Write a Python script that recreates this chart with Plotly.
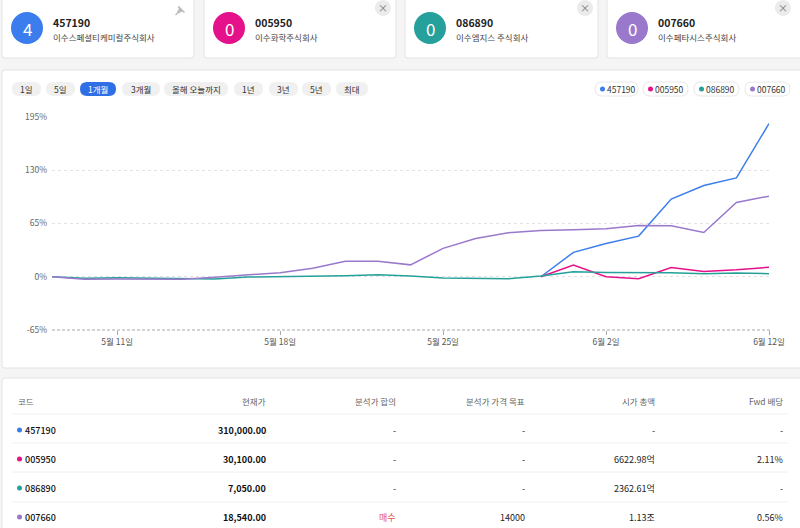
import plotly.graph_objects as go

# ---------------- data ----------------
dates = ["5월 9일", "5월 10일", "5월 11일", "5월 12일", "5월 15일", "5월 16일", "5월 17일",
         "5월 18일", "5월 19일", "5월 22일", "5월 23일", "5월 24일", "5월 25일", "5월 26일",
         "5월 30일", "5월 31일", "6월 1일", "6월 2일", "6월 5일", "6월 7일", "6월 8일",
         "6월 9일", "6월 12일"]
tick_dates = ["5월 11일", "5월 18일", "5월 25일", "6월 2일", "6월 12일"]

codes = ["457190", "005950", "086890", "007660"]
names = ["이수스페셜티케미컬주식회사", "이수화학주식회사", "이수엠지스 주식회사", "이수페타시스주식회사"]
badges = ["4", "0", "0", "0"]
colors = ["#3b7ded", "#e5118a", "#26a09b", "#9a78cc"]

s457190 = [None] * 15 + [0, 29.8, 40.7, 49.6, 94.8, 111.4, 120.7, 187.0]
s005950 = [None] * 15 + [0, 14.3, 0.0, -2.4, 11.3, 6.3, 8.4, 11.6]
s086890 = [0, -1.7, -1.3, -1.5, -2.0, -2.6, -0.3, 0.0, 0.3, 1.3, 2.5, 1.0, -1.6, -2.4,
           -2.4, 1.0, 6.2, 5.3, 5.3, 4.9, 3.7, 4.5, 3.7]
s007660 = [0, -3.0, -2.8, -2.8, -3.0, -0.5, 2.5, 5.0, 10.5, 18.8, 18.8, 14.5, 34.6, 46.8,
           53.7, 56.6, 57.5, 58.5, 62.5, 62.2, 54.0, 90.7, 98.4]
series = [s457190, s005950, s086890, s007660]

y_ticks = [-65, 0, 65, 130, 195]
y_tick_labels = [f"{v}%" for v in y_ticks]
range_buttons = ["1일", "5일", "1개월", "3개월", "올해 오늘까지", "1년", "3년", "5년", "최대"]
active_button = "1개월"

table_headers = ["코드", "현재가", "분석가 합의", "분석가 가격 목표", "시가 총액", "Fwd 배당"]
prices = ["310,000.00", "30,100.00", "7,050.00", "18,540.00"]
consensus = ["-", "-", "-", "매수"]
targets = ["-", "-", "-", "14000"]
market_caps = ["-", "6622.98억", "2362.61억", "1.13조"]
fwd_div = ["-", "2.11%", "-", "0.56%"]

# ---------------- geometry helpers ----------------
PL, PR, PT, PB = 52, 769, 117, 330
W, H = 800, 528
PW, PH = PR - PL, PB - PT
FONT = "Noto Sans CJK KR"


def X(px):
    return (px - PL) / PW


def Y(py):
    return (PB - py) / PH


def rrect(x0, y0, x1, y1, r):
    return (f"M {X(x0 + r)},{Y(y0)} L {X(x1 - r)},{Y(y0)} Q {X(x1)},{Y(y0)} {X(x1)},{Y(y0 + r)} "
            f"L {X(x1)},{Y(y1 - r)} Q {X(x1)},{Y(y1)} {X(x1 - r)},{Y(y1)} "
            f"L {X(x0 + r)},{Y(y1)} Q {X(x0)},{Y(y1)} {X(x0)},{Y(y1 - r)} "
            f"L {X(x0)},{Y(y0 + r)} Q {X(x0)},{Y(y0)} {X(x0 + r)},{Y(y0)} Z")


shapes = []
annos = []


def box(x0, y0, x1, y1, r, fill, line="rgba(0,0,0,0)", lw=1, layer="below"):
    shapes.append(dict(type="path", path=rrect(x0, y0, x1, y1, r), xref="paper", yref="paper",
                       fillcolor=fill, line=dict(color=line, width=lw), layer=layer))


def text(x, y, t, size=10, color="#222", xanchor="left", weight=None):
    f = dict(family=FONT, size=size, color=color)
    if weight:
        f["weight"] = weight
    shift = {"left": -2, "right": 2, "center": 0}[xanchor]
    annos.append(dict(x=X(x + shift), y=Y(y), xref="paper", yref="paper", text=t, showarrow=False,
                      xanchor=xanchor, yanchor="middle", font=f))


def circle(cx, cy, r, fill, layer="below"):
    shapes.append(dict(type="circle", xref="paper", yref="paper", x0=X(cx - r), x1=X(cx + r),
                       y0=Y(cy + r), y1=Y(cy - r), fillcolor=fill, line=dict(width=0), layer=layer))


def hline(x0, x1, y, color, width=1, dash="solid"):
    shapes.append(dict(type="line", xref="paper", yref="paper", x0=X(x0), x1=X(x1), y0=Y(y), y1=Y(y),
                       line=dict(color=color, width=width, dash=dash), layer="below"))


# ---------------- top cards ----------------
card_x = [(2, 194), (204, 396), (405, 598), (607, 806)]
for i, (x0, x1) in enumerate(card_x):
    box(x0, -6, x1, 58, 3, "white", "#e4e4e4")
    circle(x0 + 25, 28, 16, colors[i], layer="above")
    text(x0 + 25, 28.5, badges[i], size=17, color="white", xanchor="center")
    text(x0 + 51, 22, codes[i], size=10.5, color="#222", weight=600)
    text(x0 + 51, 37, names[i], size=8.5, color="#444")
    if i == 0:
        # pin icon
        shapes.append(dict(type="path", xref="paper", yref="paper",
                           path=(f"M {X(179)},{Y(6)} L {X(185)},{Y(12)} L {X(184)},{Y(13)} L {X(182)},{Y(11.5)} "
                                 f"L {X(178.5)},{Y(13.5)} L {X(177)},{Y(12)} L {X(179)},{Y(8.5)} L {X(177.5)},{Y(7)} Z"),
                           fillcolor="#bbbbbb", line=dict(width=0), layer="above"))
        shapes.append(dict(type="line", xref="paper", yref="paper", x0=X(178.5), y0=Y(12), x1=X(175.5), y1=Y(15),
                           line=dict(color="#bbbbbb", width=1.2), layer="above"))
    else:
        cx = x1 - 13 if i < 3 else 783
        circle(cx, 8, 8, "#ebebeb", layer="above")
        text(cx, 8, "×", size=10, color="#777", xanchor="center")

# ---------------- chart card ----------------
box(2, 70, 806, 368, 3, "white", "#e4e4e4")

btn_x = [(12, 41), (46, 75), (80, 116), (122, 160), (164, 228), (234, 263), (269, 298), (302, 331), (336, 368)]
for lab, (x0, x1) in zip(range_buttons, btn_x):
    active = lab == active_button
    box(x0, 82, x1, 96, 7, "#2f6fe6" if active else "#f0f0f0", layer="above")
    text((x0 + x1) / 2, 89, lab, size=8.5, color="white" if active else "#333", xanchor="center")

leg_x = [(595, 638), (643, 688), (694, 739), (745, 790)]
for i, (x0, x1) in enumerate(leg_x):
    box(x0, 82, x1, 96, 7, "white", "#e8e8e8", layer="above")
    circle(x0 + 7.5, 89, 2.5, colors[i], layer="above")
    text(x0 + 12, 89, codes[i], size=8.5, color="#333")

# dashed bottom axis line
hline(PL, PR + 3, PB, "#a8a8a8", 1, "3px,2px")

# ---------------- table card ----------------
box(2, 378, 806, 540, 3, "white", "#e4e4e4")
col_right = [None, 266, 396, 525, 655, 783]
text(18, 401, table_headers[0], size=8.5, color="#666")
for h, xr in zip(table_headers[1:], col_right[1:]):
    text(xr, 401, h, size=8.5, color="#666", xanchor="right")

row_y = [430, 459, 488, 517]
for yy in [414, 443, 472, 502]:
    hline(12, 788, yy, "#f0f0f0")
for i, yy in enumerate(row_y):
    circle(19.5, yy, 2.5, colors[i], layer="above")
    text(25, yy, codes[i], size=9, color="#111", weight=500)
    text(266, yy, prices[i], size=9, color="#111", xanchor="right", weight=600)
    text(396, yy, consensus[i], size=9, color="#e0554f" if consensus[i] == "매수" else "#222", xanchor="right")
    text(525, yy, targets[i], size=9, color="#222", xanchor="right")
    text(655, yy, market_caps[i], size=9, color="#222", xanchor="right")
    text(783, yy, fwd_div[i], size=9, color="#222", xanchor="right")

# ---------------- traces ----------------
fig = go.Figure()
for code, vals, col in zip(codes, series, colors):
    fig.add_trace(go.Scatter(x=dates, y=vals, mode="lines", name=code,
                             line=dict(color=col, width=1.5), connectgaps=False, hoverinfo="skip"))

fig.update_layout(
    width=W, height=H,
    margin=dict(l=PL, r=W - PR, t=PT, b=H - PB, pad=0),
    paper_bgcolor="#f5f5f5", plot_bgcolor="white",
    showlegend=False,
    font=dict(family=FONT),
    shapes=shapes, annotations=annos,
    xaxis=dict(type="category", categoryorder="array", categoryarray=dates, range=[0, len(dates) - 1],
               tickvals=tick_dates, ticktext=tick_dates, showgrid=False, zeroline=False, showline=False,
               ticks="outside", ticklen=4, tickcolor="#aaaaaa", tickwidth=1,
               tickfont=dict(family=FONT, size=8.5, color="#555")),
    yaxis=dict(range=[y_ticks[0], y_ticks[-1]], tickvals=y_ticks, ticktext=y_tick_labels,
               showgrid=True, gridcolor="#e2e2e2", griddash="dot", gridwidth=1,
               zeroline=False, showline=False, ticks="", ticklabelstandoff=4,
               tickfont=dict(family=FONT, size=8.5, color="#666")),
)

fig.write_html("out.html", config={"displayModeBar": False},
               post_script="document.body.style.margin='0';document.body.style.overflow='hidden';")
